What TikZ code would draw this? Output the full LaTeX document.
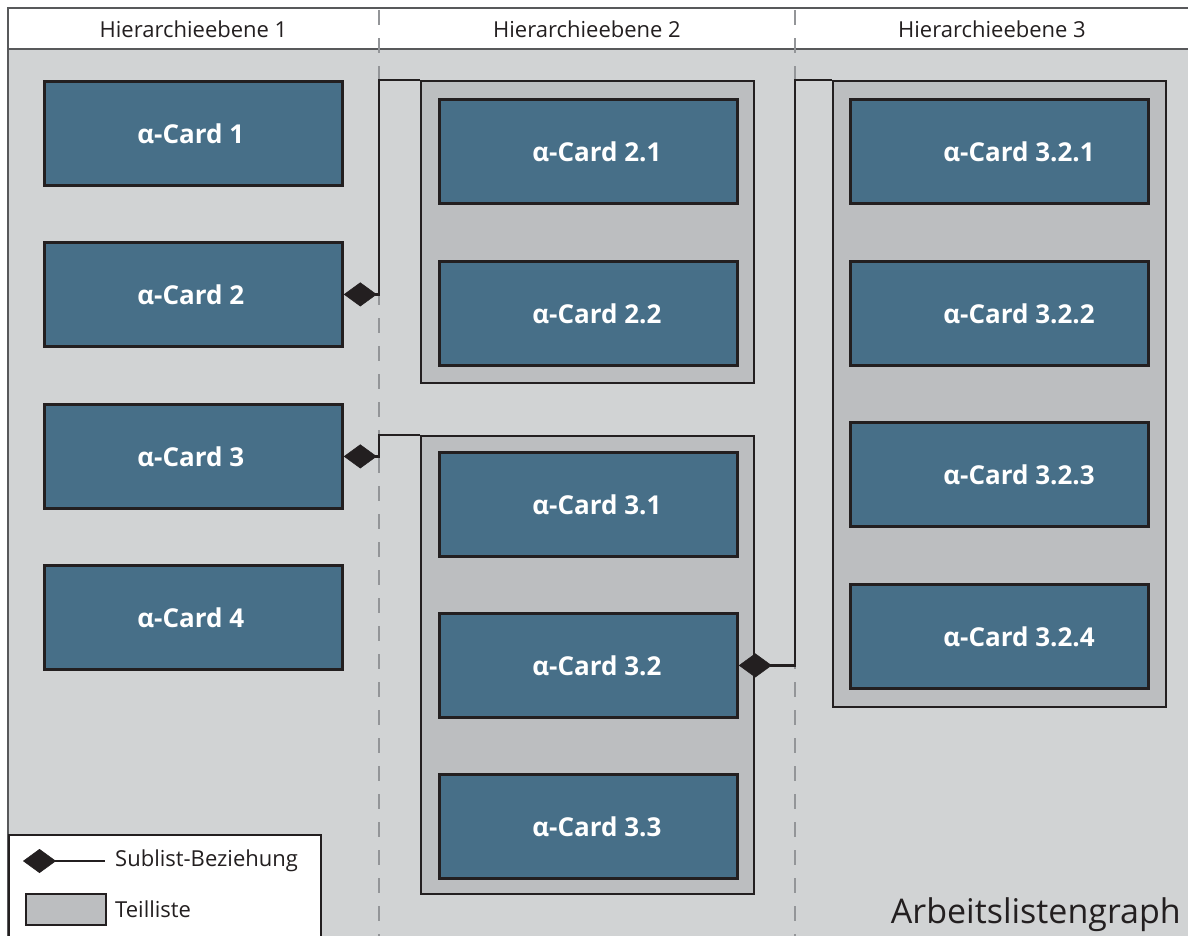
\documentclass[tikz,border=0pt]{standalone}
\usepackage{fontspec}
\setmainfont{Open Sans}
\usetikzlibrary{arrows.meta}

\definecolor{bggray}{HTML}{D1D3D4}
\definecolor{listgray}{HTML}{BCBEC0}
\definecolor{cardblue}{HTML}{476F88}
\definecolor{ink}{HTML}{231F20}
\definecolor{framegray}{HTML}{58595B}
\definecolor{dashgray}{HTML}{939598}

% card captions start at a fixed indent from the card's left edge
\newcommand\cardcaption[1]{\makebox[112pt][l]{#1}}

\begin{document}
\begin{tikzpicture}[x=1pt,y=-1pt,
  card/.style={draw=ink, line width=2.8pt, fill=cardblue, anchor=north west,
    minimum width=298pt, minimum height=104pt, inner sep=0pt, text=white,
    font=\fontsize{26}{30}\selectfont\bfseries},
  sublist/.style={draw=ink, line width=2pt, fill=listgray, anchor=north west, inner sep=0pt},
  subrel/.style={draw=ink, line width=2.3pt, {Diamond[length=33pt,width=24pt,line width=0.5pt]}-},
  headtext/.style={text=ink, font=\fontsize{22}{26}\selectfont},
  sepline/.style={draw=dashgray, line width=2pt, dash pattern=on 15pt off 13pt, dash phase=-2pt},
  frameline/.style={draw=framegray, line width=1.6pt}]

\useasboundingbox (0,0) rectangle (1188,935);
\clip (0,0) rectangle (1188,935);

% canvas and header band
\fill[bggray] (8,49) rectangle (1200,950);
\fill[white] (8,8) rectangle (1200,49);
\draw[frameline] (1200,8) -- (8,8) -- (8,950);
\draw[frameline] (8,49) -- (1200,49);

% level separators
\coordinate (sep1) at (379,0);
\coordinate (sep2) at (795,0);
\draw[sepline] (379,8) -- (379,950);
\draw[sepline] (795,8) -- (795,950);

% level headings
\node[headtext] (h1) at (193.5,29) {Hierarchieebene 1};
\node[headtext] (h2) at (587,29) {Hierarchieebene 2};
\node[headtext] (h3) at (992,29) {Hierarchieebene 3};

% partial lists
\node[sublist, minimum width=333pt, minimum height=302pt] (tl1) at (420,80) {};
\node[sublist, minimum width=333pt, minimum height=458pt] (tl2) at (420,435) {};
\node[sublist, minimum width=333pt, minimum height=626pt] (tl3) at (832,80) {};

% level 1 cards
\node[card] (c1) at (43,80)  {\cardcaption{α-Card 1}};
\node[card] (c2) at (43,241) {\cardcaption{α-Card 2}};
\node[card] (c3) at (43,403) {\cardcaption{α-Card 3}};
\node[card] (c4) at (43,564) {\cardcaption{α-Card 4}};

% level 2 cards
\node[card] (c21) at (438,98)  {\cardcaption{α-Card 2.1}};
\node[card] (c22) at (438,260) {\cardcaption{α-Card 2.2}};
\node[card] (c31) at (438,451) {\cardcaption{α-Card 3.1}};
\node[card] (c32) at (438,612) {\cardcaption{α-Card 3.2}};
\node[card] (c33) at (438,773) {\cardcaption{α-Card 3.3}};

% level 3 cards
\node[card] (c321) at (849,98)  {\cardcaption{α-Card 3.2.1}};
\node[card] (c322) at (849,260) {\cardcaption{α-Card 3.2.2}};
\node[card] (c323) at (849,421) {\cardcaption{α-Card 3.2.3}};
\node[card] (c324) at (849,583) {\cardcaption{α-Card 3.2.4}};

% sublist relations
\draw[subrel] (c2.east) -- (c2.east -| sep1) |- (tl1.north west);
\draw[subrel] (c3.east) -- (c3.east -| sep1) |- (tl2.north west);
\draw[subrel] (c32.east) -- (c32.east -| sep2) |- (tl3.north west);

% legend
\node[draw=ink, line width=2pt, fill=white, anchor=north west, inner sep=0pt,
  minimum width=312pt, minimum height=130pt] (legend) at (8,834) {};
\coordinate (legA) at (23,861);
\coordinate (legB) at (105,861);
\draw[subrel] (legA) -- (legB);
\node[headtext, anchor=west, inner sep=0pt] (legsub) at (115,861) {Sublist-Beziehung};
\node[sublist, minimum width=80pt, minimum height=31pt] (legtl) at (25,893) {};
\node[headtext, anchor=west, inner sep=0pt] (legtltext) at (115,909) {Teilliste};

% graph title
\node[text=ink, font=\fontsize{34}{40}\selectfont, anchor=base east, inner sep=0pt]
  (title) at (1181,923) {Arbeitslistengraph};
\end{tikzpicture}
\end{document}
